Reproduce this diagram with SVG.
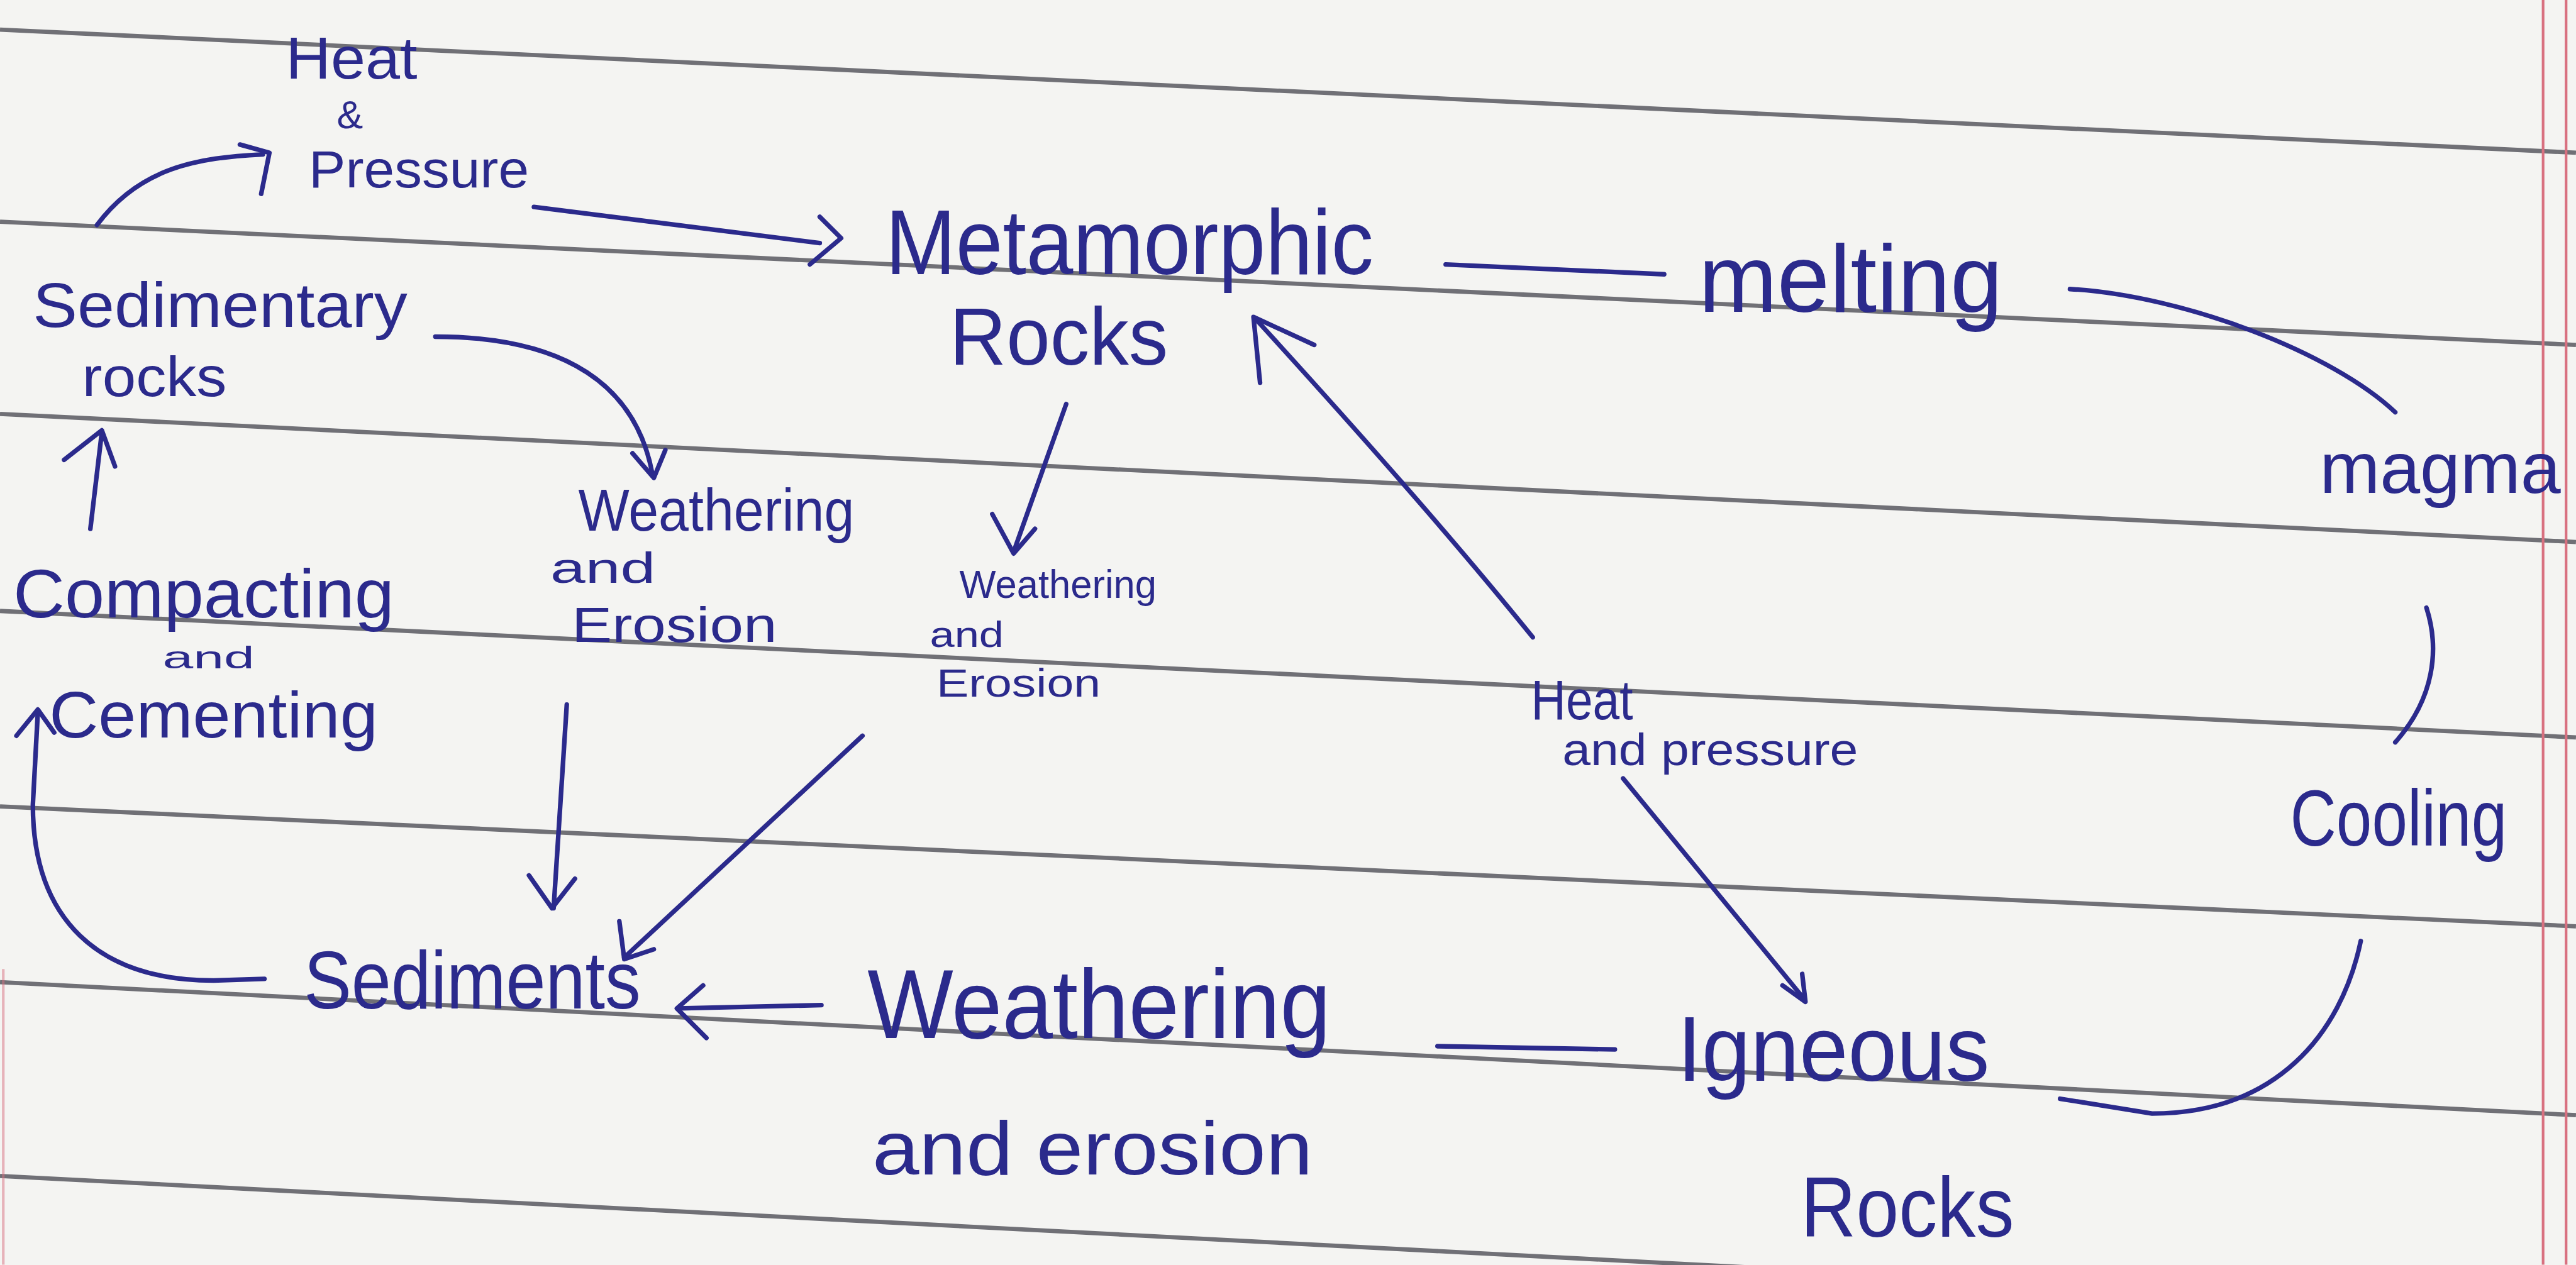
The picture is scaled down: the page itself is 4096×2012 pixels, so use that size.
<svg xmlns="http://www.w3.org/2000/svg" width="4096" height="2012" viewBox="0 0 4096 2012">
<style>
.rule{stroke:#707076;stroke-width:2.6;fill:none}
.margin{stroke:#d8707f;stroke-width:1.6;fill:none}
.ink{stroke:#2b2a8c;stroke-width:2.8;fill:none;stroke-linecap:round;stroke-linejoin:round}
text{font-family:"Liberation Sans","DejaVu Sans",sans-serif;fill:#2b2a8c}
</style>
<rect width="4096" height="2012" fill="#f4f4f2"/>
<g transform="scale(2.6122)">
<g id="paper">
<line class="rule" x1="0" y1="18" x2="1568" y2="93"/>
<line class="rule" x1="0" y1="135" x2="1568" y2="210"/>
<line class="rule" x1="0" y1="252" x2="1568" y2="330"/>
<line class="rule" x1="0" y1="372" x2="1568" y2="449"/>
<line class="rule" x1="0" y1="491" x2="1568" y2="564"/>
<line class="rule" x1="0" y1="598" x2="1568" y2="679"/>
<line class="rule" x1="0" y1="716" x2="1568" y2="798"/>
<line class="margin" x1="1548" y1="0" x2="1548" y2="770"/>
<line class="margin" x1="1562" y1="0" x2="1562" y2="770"/>
<line class="margin" x1="2" y1="590" x2="2" y2="770" opacity="0.5"/>
</g>
<g id="connectors">
<path class="ink" d="M59,137 C85,102 120,96 160,94"/>
<polyline class="ink" points="146,88 164,93 159,118"/>
<path class="ink" d="M325,126 L499,148"/>
<polyline class="ink" points="499,132 512,145 493,161"/>
<path class="ink" d="M880,161 L1013,167"/>
<path class="ink" d="M1260,176 C1330,180 1420,215 1458,251"/>
<path class="ink" d="M1477,370 C1485,395 1482,425 1458,452"/>
<path class="ink" d="M1437,573 C1425,630 1385,678 1310,678 L1254,669"/>
<path class="ink" d="M875,637 L983,639"/>
<path class="ink" d="M988,474 L1098,608"/>
<polyline class="ink" points="1085,600 1099,610 1097,593"/>
<path class="ink" d="M933,388 Q870,310 765,195"/>
<polyline class="ink" points="767,233 763,193 800,210"/>
<path class="ink" d="M649,246 L617,336"/>
<polyline class="ink" points="604,313 617,337 630,322"/>
<path class="ink" d="M525,448 L380,583"/>
<polyline class="ink" points="377,561 380,584 398,578"/>
<path class="ink" d="M265,205 C330,205 385,225 397,288"/>
<polyline class="ink" points="385,276 398,291 405,274"/>
<path class="ink" d="M345,429 L337,553"/>
<polyline class="ink" points="322,533 336,553 350,535"/>
<path class="ink" d="M161,596 L130,597 C60,597 20,560 20,490 L23,434"/>
<polyline class="ink" points="10,448 23,432 33,446"/>
<path class="ink" d="M55,322 L62,263"/>
<polyline class="ink" points="39,280 62,262 70,284"/>
<path class="ink" d="M413,614 L500,612"/>
<polyline class="ink" points="428,600 412,614 430,632"/>
</g>
<g id="heat-pressure-top">
<text x="174" y="48" font-size="36" textLength="80" lengthAdjust="spacingAndGlyphs">Heat</text>
<text x="205" y="78" font-size="24">&amp;</text>
<text x="188" y="114" font-size="32" textLength="134" lengthAdjust="spacingAndGlyphs">Pressure</text>
</g>
<g id="metamorphic-rocks">
<text x="539" y="167" font-size="56" textLength="297" lengthAdjust="spacingAndGlyphs">Metamorphic</text>
<text x="578" y="222" font-size="50" textLength="133" lengthAdjust="spacingAndGlyphs">Rocks</text>
</g>
<g id="melting">
<text x="1034" y="190" font-size="58" textLength="185" lengthAdjust="spacingAndGlyphs">melting</text>
</g>
<g id="magma">
<text x="1412" y="300" font-size="44">magma</text>
</g>
<g id="cooling">
<text x="1394" y="515" font-size="48" textLength="132" lengthAdjust="spacingAndGlyphs">Cooling</text>
</g>
<g id="igneous-rocks">
<text x="1021" y="658" font-size="56" textLength="190" lengthAdjust="spacingAndGlyphs">Igneous</text>
<text x="1096" y="753" font-size="52" textLength="130" lengthAdjust="spacingAndGlyphs">Rocks</text>
</g>
<g id="heat-pressure-right">
<text x="932" y="438" font-size="34" textLength="62" lengthAdjust="spacingAndGlyphs">Heat</text>
<text x="951" y="466" font-size="28" textLength="180" lengthAdjust="spacingAndGlyphs">and pressure</text>
</g>
<g id="weathering-erosion-small">
<text x="584" y="364" font-size="24" textLength="120" lengthAdjust="spacingAndGlyphs">Weathering</text>
<text x="566" y="394" font-size="22" textLength="45" lengthAdjust="spacingAndGlyphs">and</text>
<text x="570" y="424" font-size="24" textLength="100" lengthAdjust="spacingAndGlyphs">Erosion</text>
</g>
<g id="weathering-erosion-left">
<text x="352" y="323" font-size="36" textLength="168" lengthAdjust="spacingAndGlyphs">Weathering</text>
<text x="335" y="355" font-size="26" textLength="64" lengthAdjust="spacingAndGlyphs">and</text>
<text x="348" y="391" font-size="30" textLength="125" lengthAdjust="spacingAndGlyphs">Erosion</text>
</g>
<g id="sediments">
<text x="185" y="614" font-size="50" textLength="205" lengthAdjust="spacingAndGlyphs">Sediments</text>
</g>
<g id="weathering-erosion-bottom">
<text x="528" y="632" font-size="60" textLength="282" lengthAdjust="spacingAndGlyphs">Weathering</text>
<text x="531" y="715" font-size="46" textLength="268" lengthAdjust="spacingAndGlyphs">and erosion</text>
</g>
<g id="compacting-cementing">
<text x="8" y="376" font-size="42" textLength="232" lengthAdjust="spacingAndGlyphs">Compacting</text>
<text x="99" y="407" font-size="19" textLength="56" lengthAdjust="spacingAndGlyphs">and</text>
<text x="30" y="449" font-size="40" textLength="200" lengthAdjust="spacingAndGlyphs">Cementing</text>
</g>
<g id="sedimentary-rocks">
<text x="20" y="199" font-size="38" textLength="228" lengthAdjust="spacingAndGlyphs">Sedimentary</text>
<text x="50" y="241" font-size="34" textLength="88" lengthAdjust="spacingAndGlyphs">rocks</text>
</g>
</g>
</svg>
